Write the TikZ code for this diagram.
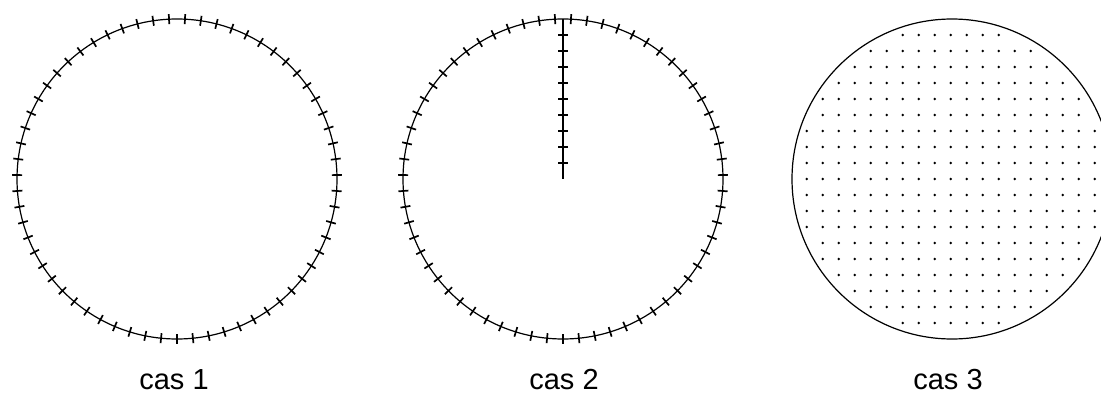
\documentclass[tikz,border=0pt]{standalone}
\usepackage{fontspec}
\setsansfont{Liberation Sans}
\tikzset{
  rim/.style={draw=black,line width=1.2pt},
  tickmark/.style={draw=black,line width=1.7pt},
  grain/.style={fill=black},
  caption/.style={font=\sffamily\fontsize{29}{34}\selectfont,anchor=base,inner sep=0pt},
}

\begin{document}
\begin{tikzpicture}[x=1pt,y=-1pt]
  \useasboundingbox (0,0) rectangle (1101,396);
  \clip (0,0) rectangle (1101,396);

  \coordinate (c1) at (177,179);
  \coordinate (c2) at (563,179);
  \coordinate (c3) at (952,179);
  \coordinate (top2) at (563,19);

  % cas 1
  \draw[rim] (c1) circle (160);
  \foreach \k [evaluate=\k as \a using 90+\k*5.7142857] in {0,...,62}
    \draw[tickmark,shift={(c1)}] (\a:155) -- (\a:165);

  % cas 2
  \draw[rim] (c2) circle (160);
  \foreach \k [evaluate=\k as \a using 90+\k*5.7142857] in {0,...,62}
    \draw[tickmark,shift={(c2)}] (\a:155) -- (\a:165);
  \draw[rim,line width=1.7pt] (top2) -- (c2);
  \foreach \k in {1,...,9}
    \draw[tickmark,shift={(top2)}] (-5,16*\k) -- (5,16*\k);

  % cas 3
  \draw[rim] (c3) circle (160);
  \foreach \i in {0,...,18}
    \foreach \j in {0,...,18} {
      \pgfmathtruncatemacro\inside{(1.6*(\i-9))^2+(1.6*(\j-9))^2<237}
      \ifnum\inside=1
        \fill[grain] (950.7+16*\i-144,35+16*\j) circle (1.3);
      \fi
    }

  \node[caption] (lab1) at (174,389) {cas 1};
  \node[caption] (lab2) at (564,389) {cas 2};
  \node[caption] (lab3) at (948,389) {cas 3};
\end{tikzpicture}
\end{document}
